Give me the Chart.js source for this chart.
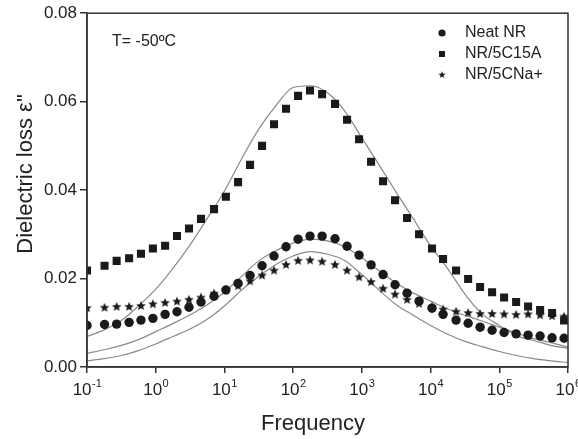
<!DOCTYPE html>
<html>
<head>
<meta charset="utf-8">
<script src="https://cdn.jsdelivr.net/npm/chart.js@4.4.1/dist/chart.umd.min.js"></script>
<style>
  html, body { margin: 0; padding: 0; background: #fff; }
  #wrap { width: 578px; height: 439px; position: relative; }
</style>
</head>
<body>
<div id="wrap"><canvas id="c"></canvas></div>
<script>
// measured frequencies (Hz)
const freq = [0.1, 0.18, 0.27, 0.41, 0.61, 0.91, 1.37, 2.04, 3.05, 4.56,
  7.06, 10.5, 15.8, 23.6, 35.3, 52.7, 78.8, 118, 176, 264,
  407, 609, 911, 1362, 2036, 3042, 4550, 6800, 10500, 15200,
  23500, 35200, 52600, 78600, 117500, 175800, 262600, 392700, 587000, 877000];

const neatNR = [0.0094, 0.0096, 0.0097, 0.0101, 0.0106, 0.0110, 0.0119, 0.0125, 0.0135, 0.0147,
  0.0160, 0.0174, 0.0189, 0.0207, 0.0229, 0.0251, 0.0272, 0.0289, 0.0296, 0.0296,
  0.0290, 0.0273, 0.0253, 0.0231, 0.0209, 0.0186, 0.0167, 0.0149, 0.0133, 0.0119,
  0.0106, 0.0099, 0.0090, 0.0083, 0.0078, 0.0075, 0.0072, 0.0070, 0.0066, 0.0065];

const nr5C15A = [0.0218, 0.0229, 0.0240, 0.0246, 0.0256, 0.0268, 0.0274, 0.0296, 0.0313, 0.0335,
  0.0357, 0.0385, 0.0418, 0.0457, 0.0500, 0.0549, 0.0584, 0.0613, 0.0625, 0.0617,
  0.0595, 0.0559, 0.0515, 0.0464, 0.0420, 0.0377, 0.0337, 0.0300, 0.0268, 0.0244,
  0.0218, 0.0199, 0.0181, 0.0169, 0.0157, 0.0147, 0.0137, 0.0129, 0.0122, 0.0105];

const nr5CNa = [0.0133, 0.0134, 0.0136, 0.0136, 0.0138, 0.0142, 0.0145, 0.0148, 0.0152, 0.0157,
  0.0166, 0.0174, 0.0183, 0.0194, 0.0207, 0.0218, 0.0231, 0.0240, 0.0241, 0.0238,
  0.0231, 0.0218, 0.0203, 0.0192, 0.0177, 0.0164, 0.0152, 0.0143, 0.0136, 0.0130,
  0.0125, 0.0122, 0.0120, 0.0120, 0.0119, 0.0118, 0.0119, 0.0117, 0.0115, 0.0114];

const fitFreq = [0.1, 0.178, 0.316, 0.562, 1, 1.78, 3.16, 5.62, 10, 17.8,
  31.6, 56.2, 100, 178, 316, 562, 1000, 1780, 3160, 5620,
  10000, 17800, 31600, 56200, 100000, 178000, 316000, 562000, 1000000];
const fitC15A = [0.0069, 0.0084, 0.0105, 0.0138, 0.0176, 0.0223, 0.0276, 0.0336, 0.0398, 0.0471,
  0.0538, 0.0591, 0.0632, 0.0636, 0.0620, 0.0579, 0.0518, 0.0457, 0.0395, 0.0335,
  0.0274, 0.0222, 0.0165, 0.0120, 0.0094, 0.0071, 0.0060, 0.0049, 0.0042];
const fitNeat = [0.0031, 0.0039, 0.0049, 0.0062, 0.0080, 0.0098, 0.0118, 0.0141, 0.0169, 0.0205,
  0.0240, 0.0263, 0.0280, 0.0289, 0.0285, 0.0272, 0.0247, 0.0218, 0.0190, 0.0167,
  0.0149, 0.0131, 0.0117, 0.0104, 0.0090, 0.0077, 0.0064, 0.0055, 0.0045];
const fitCNa = [0.0014, 0.0019, 0.0026, 0.0037, 0.0052, 0.0069, 0.0086, 0.0108, 0.0138, 0.0174,
  0.0205, 0.0232, 0.0251, 0.0261, 0.0255, 0.0241, 0.0209, 0.0174, 0.0141, 0.0117,
  0.0094, 0.0074, 0.0058, 0.0046, 0.0035, 0.0026, 0.0019, 0.0014, 0.0010];

const xTicks = [0.1, 1, 10, 100, 1000, 10000, 100000, 1000000];
const yTicks = [0, 0.02, 0.04, 0.06, 0.08];
const labels = ['Neat NR', 'NR/5C15A', 'NR/5CNa+'];

const FONT = '"Liberation Sans", Arial, Helvetica, sans-serif';
const INK = '#1a1a1a';
const AXIS = '#333';
const FIT = '#8a8a8a';

function starImage(r) {
  const c = document.createElement('canvas');
  const s = Math.ceil(r * 2) + 2;
  c.width = c.height = s;
  const g = c.getContext('2d');
  g.fillStyle = INK;
  g.beginPath();
  for (let i = 0; i < 10; i++) {
    const rad = i % 2 ? r * 0.45 : r;
    const a = -Math.PI / 2 + i * Math.PI / 5;
    g.lineTo(s / 2 + rad * Math.cos(a), s / 2 + rad * Math.sin(a));
  }
  g.closePath();
  g.fill();
  return c;
}

const star = starImage(5);
const toXY = (xs, ys) => xs.map((x, i) => ({ x: x, y: ys[i] }));

const marks = (label, ys, style, radius) => ({
  label: label,
  data: toXY(freq, ys),
  showLine: false,
  pointStyle: style,
  pointRadius: radius,
  pointBackgroundColor: INK,
  pointBorderColor: INK,
  pointBorderWidth: 0,
  order: 0
});

const fitLine = ys => ({
  data: toXY(fitFreq, ys),
  showLine: true,
  pointRadius: 0,
  borderColor: FIT,
  borderWidth: 1.2,
  cubicInterpolationMode: 'monotone',
  order: 1
});

// frame, x tick labels with exponents, titles, legend, note
const decorations = {
  id: 'decorations',
  afterDraw(chart) {
    const { ctx, chartArea: a } = chart;
    const xs = chart.scales.x;
    ctx.save();
    ctx.strokeStyle = AXIS;
    ctx.lineWidth = 1.5;
    ctx.strokeRect(a.left, a.top, a.right - a.left, a.bottom - a.top);

    ctx.fillStyle = '#222';
    ctx.textBaseline = 'alphabetic';
    ctx.textAlign = 'left';
    xTicks.forEach(v => {
      const px = xs.getPixelForValue(v);
      const exp = String(Math.round(Math.log10(v)));
      ctx.font = '17px ' + FONT;
      const wb = ctx.measureText('10').width;
      ctx.font = '11px ' + FONT;
      const we = ctx.measureText(exp).width;
      const x0 = px - (wb + we) / 2;
      ctx.font = '17px ' + FONT;
      ctx.fillText('10', x0, a.bottom + 28);
      ctx.font = '11px ' + FONT;
      ctx.fillText(exp, x0 + wb + 0.5, a.bottom + 20);
    });

    ctx.font = '22px ' + FONT;
    ctx.textAlign = 'center';
    ctx.fillText('Frequency', 313, 430);
    ctx.save();
    ctx.translate(32, 174);
    ctx.rotate(-Math.PI / 2);
    ctx.fillText('Dielectric loss ε"', 0, 0);
    ctx.restore();

    ctx.font = '16px ' + FONT;
    ctx.textAlign = 'left';
    ctx.textBaseline = 'middle';
    ctx.fillText('T= -50ºC', 112, 42);

    const rows = [33, 54, 75];
    rows.forEach((y, i) => {
      ctx.fillStyle = INK;
      if (i === 0) {
        ctx.beginPath();
        ctx.arc(442, y, 3.6, 0, Math.PI * 2);
        ctx.fill();
      } else if (i === 1) {
        ctx.fillRect(439, y - 3, 6, 6);
      } else {
        ctx.drawImage(star, 442 - 4.5, y - 4.5, 9, 9);
      }
      ctx.fillStyle = '#222';
      ctx.fillText(labels[i], 465, y);
    });
    ctx.restore();
  }
};

new Chart(document.getElementById('c'), {
  type: 'scatter',
  data: {
    datasets: [
      marks(labels[0], neatNR, 'circle', 4.7),
      marks(labels[1], nr5C15A, 'rect', 5.7),
      { ...marks(labels[2], nr5CNa, star, 5) },
      fitLine(fitNeat),
      fitLine(fitC15A),
      fitLine(fitCNa)
    ]
  },
  options: {
    responsive: true,
    maintainAspectRatio: false,
    animation: false,
    layout: { padding: { top: 8, right: 10, left: 0, bottom: 0 } },
    plugins: { legend: { display: false }, tooltip: { enabled: false } },
    scales: {
      x: {
        type: 'logarithmic',
        min: 0.1,
        max: 1000000,
        afterBuildTicks: s => { s.ticks = xTicks.map(v => ({ value: v })); },
        afterFit: s => { s.height = 72; },
        ticks: { display: false },
        grid: { drawOnChartArea: false, tickLength: 6, color: AXIS, lineWidth: 1.5 },
        border: { color: AXIS, width: 1.5 }
      },
      y: {
        min: 0,
        max: 0.08,
        afterBuildTicks: s => { s.ticks = yTicks.map(v => ({ value: v })); },
        afterFit: s => { s.width = 87; },
        ticks: {
          font: { family: FONT, size: 17 },
          color: '#222',
          padding: 3,
          callback: v => v.toFixed(2)
        },
        grid: { drawOnChartArea: false, tickLength: 7, color: AXIS, lineWidth: 1.5 },
        border: { color: AXIS, width: 1.5 }
      }
    }
  },
  plugins: [decorations]
});
</script>
</body>
</html>
